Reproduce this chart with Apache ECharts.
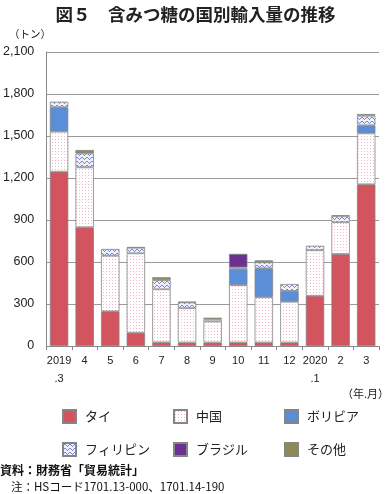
<!DOCTYPE html>
<html><head><meta charset="utf-8">
<script src="https://cdn.jsdelivr.net/npm/echarts@6/dist/echarts.min.js"></script>
<style>html,body{margin:0;padding:0;background:#fff}#c{width:391px;height:494px}</style>
</head><body><div id="c"></div>
<script>
const categories = ['2019\n.3','4','5','6','7','8','9','10','11','12','2020\n.1','2','3'];
const thai        = [1245, 848, 248, 95, 26, 25, 25, 25, 25, 25, 359, 657, 1155];
const china       = [286, 428, 397, 567, 379, 245, 150, 410, 323, 291, 325, 227, 364];
const bolivia     = [174, null, null, null, null, null, null, 114, 207, 77, null, null, 57];
const philippines = [40, 100, 48, 40, 66, 42, 15, 12, 43, 50, 32, 45, 69];
const brazil      = [null, null, null, null, null, null, null, 97, null, null, null, null, null];
const other       = [null, 24, null, 4, 20, 3, 12, null, 14, null, null, 4, 12];
const yTicks = [0, 300, 600, 900, 1200, 1500, 1800, 2100];

function chinaPattern(){
  const c = document.createElement('canvas'); c.width = 3; c.height = 3;
  const g = c.getContext('2d');
  g.fillStyle = '#ffffff'; g.fillRect(0,0,3,3);
  g.fillStyle = '#f0b6c9'; g.fillRect(1,1,1,1);
  return c;
}
function philPattern(){
  const c = document.createElement('canvas'); c.width = 5; c.height = 4;
  const g = c.getContext('2d');
  g.fillStyle = '#eef0fa'; g.fillRect(0,0,5,4);
  g.fillStyle = '#7b86cc';
  g.fillRect(0,2,1,1); g.fillRect(1,1,1,1); g.fillRect(2,1,1,1); g.fillRect(3,2,1,1); g.fillRect(4,3,1,1);
  return c;
}
const border = {borderColor:'#858585', borderWidth:0.8};
const chart = echarts.init(document.getElementById('c'));
function bar(name, data, color){
  return {name, type:'bar', stack:'t', data, barWidth:'72%',
    itemStyle: Object.assign({color}, border)};
}
chart.setOption({
  animation:false,
  textStyle:{fontFamily:'"Liberation Sans","Noto Sans CJK JP",sans-serif'},
  title:{text:'図５　含みつ糖の国別輸入量の推移', left:'center', top:1,
    textStyle:{fontSize:17.5, fontWeight:'bold', color:'#222', fontFamily:'"Noto Sans CJK JP",sans-serif'}},
  grid:{left:46, right:12, top:52, bottom:148},
  xAxis:{type:'category', data:categories,
    axisLine:{lineStyle:{color:'#888'}},
    axisTick:{show:true, length:4, lineStyle:{color:'#888'}},
    axisLabel:{color:'#222', fontSize:11, lineHeight:18, margin:6, interval:0}},
  yAxis:{type:'value', min:0, max:2100, interval:300,
    axisLine:{show:true, lineStyle:{color:'#888'}},
    axisTick:{show:false},
    splitLine:{lineStyle:{color:'#9a9a9a'}},
    axisLabel:{color:'#222', fontSize:12.5, margin:12,
      formatter: v => yTicks.includes(v) ? v.toLocaleString('en-US') : ''}},
  legend:{left:57, top:404, width:335, itemWidth:13, itemHeight:13, itemGap:18,
    icon:'rect',
    textStyle:{fontSize:13, color:'#222', width:70, padding:[0,0,0,4], lineHeight:15,
      fontFamily:'"Noto Sans CJK JP",sans-serif'},
    data:['タイ','中国','ボリビア','フィリピン','ブラジル','その他']},
  graphic:[
    {type:'text', left:9, top:29, style:{text:'（トン）', fill:'#222', font:'10.5px "Noto Sans CJK JP"'}},
    {type:'text', right:2, top:388, style:{text:'（年.月）', fill:'#222', font:'11px "Noto Sans CJK JP"'}},
    {type:'text', left:0, top:464, style:{text:'資料：財務省「貿易統計」', fill:'#111', font:'bold 12px "Noto Sans CJK JP"'}},
    {type:'text', left:11, top:481, style:{text:'注：HSコード1701.13-000、1701.14-190', fill:'#111', font:'11.5px "Noto Sans CJK JP"'}}
  ],
  series:[
    bar('タイ', thai, '#d2545e'),
    bar('中国', china, {image: chinaPattern(), repeat:'repeat'}),
    bar('ボリビア', bolivia, '#5a8ed6'),
    bar('フィリピン', philippines, {image: philPattern(), repeat:'repeat'}),
    bar('ブラジル', brazil, '#6a3191'),
    bar('その他', other, '#8e8a58')
  ]
});
</script></body></html>
